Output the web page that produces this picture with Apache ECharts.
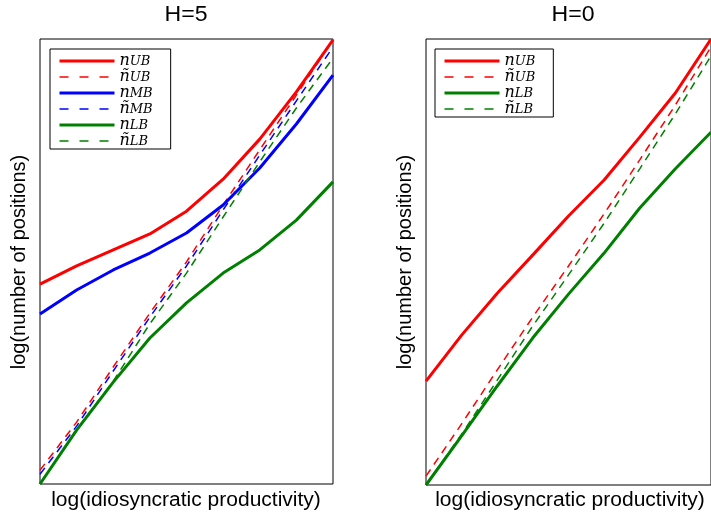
<!DOCTYPE html>
<html>
<head>
<meta charset="utf-8">
<script src="https://cdn.jsdelivr.net/npm/echarts@6/dist/echarts.min.js"></script>
<style>html,body{margin:0;padding:0;background:#fff;}#c{width:711px;height:520px;}</style>
</head>
<body>
<div id="c"></div>
<script>
// x grid (productivity levels, arbitrary units)
const xLevels = [0, 1, 2, 3, 4, 5, 6, 7, 8];
// H=5 panel (arbitrary log units, 0..10)
const h5_nUB  = [4.49, 4.90, 5.26, 5.62, 6.13, 6.85, 7.75, 8.81, 9.98];
const h5_tnUB = [0.31, 1.39, 2.63, 3.84, 4.99, 6.27, 7.51, 8.74, 9.98];
const h5_nMB  = [3.82, 4.36, 4.81, 5.19, 5.64, 6.27, 7.10, 8.09, 9.19];
const h5_tnMB = [0.22, 1.30, 2.54, 3.75, 4.90, 6.16, 7.39, 8.61, 9.82];
const h5_nLB  = [0.00, 1.21, 2.29, 3.28, 4.07, 4.74, 5.26, 5.93, 6.79];
const h5_tnLB = [0.00, 1.22, 2.31, 3.60, 4.74, 6.00, 7.24, 8.45, 9.57];
// H=0 panel
const h0_nUB  = [2.33, 3.36, 4.30, 5.16, 6.03, 6.84, 7.80, 8.79, 10.00];
const h0_tnUB = [0.20, 1.37, 2.58, 3.77, 4.91, 6.08, 7.29, 8.52, 9.82];
const h0_nLB  = [0.00, 1.10, 2.22, 3.30, 4.28, 5.20, 6.21, 7.09, 7.91];
const h0_tnLB = [0.00, 1.14, 2.35, 3.57, 4.71, 5.87, 7.09, 8.32, 9.62];

const titles = ['H=5', 'H=0'];
const xLabel = 'log(idiosyncratic productivity)';
const yLabel = 'log(number of positions)';

const RED = '#ff0000', BLUE = '#0000ff', GREEN = '#008000';
const DASH = [8, 6];
const pair = ys => xLevels.map((x, i) => [x, ys[i]]);
function mk(name, ys, idx, color, dashed) {
  return {
    type: 'line', name: name, xAxisIndex: idx, yAxisIndex: idx,
    data: pair(ys), symbol: 'none', showSymbol: false, animation: false,
    lineStyle: { color: color, width: dashed ? 1.5 : 3, type: dashed ? DASH : 'solid', cap: 'butt' },
    itemStyle: { color: color }
  };
}
const legendMap = {
  'nUB': '{n|n}{s|UB}', 'tnUB': '{n|ñ}{s|UB}',
  'nMB': '{n|n}{s|MB}', 'tnMB': '{n|ñ}{s|MB}',
  'nLB': '{n|n}{s|LB}', 'tnLB': '{n|ñ}{s|LB}'
};
const legendStyle = {
  'nUB': [RED, 3, 'solid'], 'tnUB': [RED, 1.5, [9, 11]],
  'nMB': [BLUE, 3, 'solid'], 'tnMB': [BLUE, 1.5, [9, 11]],
  'nLB': [GREEN, 3, 'solid'], 'tnLB': [GREEN, 1.5, [9, 11]]
};
const rich = {
  n: { fontFamily: 'DejaVu Serif', fontStyle: 'italic', fontSize: 16, color: '#000', lineHeight: 14, verticalAlign: 'middle' },
  s: { fontFamily: 'DejaVu Serif', fontStyle: 'italic', fontSize: 13, color: '#000', lineHeight: 12, padding: [5, 0, 0, 0], verticalAlign: 'bottom' }
};
function legend(left, names, padRight) {
  return {
    orient: 'vertical', left: left, top: 49,
    data: names.map(n => ({ name: n, lineStyle: { color: legendStyle[n][0], width: legendStyle[n][1], type: legendStyle[n][2] } })),
    itemWidth: 55, itemHeight: 12, itemGap: -3,
    padding: [1, padRight, 0, 8], borderColor: '#000', borderWidth: 1, backgroundColor: '#fff',
    selectedMode: false,
    itemStyle: { opacity: 0 },
    formatter: n => legendMap[n],
    textStyle: { rich: rich }
  };
}
function xAx(i) {
  return { type: 'value', gridIndex: i, min: 0, max: 8,
    axisLine: { show: false }, axisTick: { show: false }, axisLabel: { show: false }, splitLine: { show: false } };
}
function yAx(i) {
  return { type: 'value', gridIndex: i, min: 0, max: 10,
    axisLine: { show: false }, axisTick: { show: false }, axisLabel: { show: false }, splitLine: { show: false } };
}
const SX = 1.05;
function txt(text, x, y, size, rot) {
  return { type: 'text', x: x, y: y, rotation: rot || 0, scaleX: rot ? 1 : SX, scaleY: rot ? SX : 1, silent: true,
    style: { text: text, font: size + 'px "Liberation Sans"', fill: '#000', align: 'center', verticalAlign: 'middle' } };
}
const chart = echarts.init(document.getElementById('c'), null, { renderer: 'canvas' });
chart.setOption({
  backgroundColor: '#fff',
  animation: false,
  grid: [
    { left: 40, top: 39, width: 293, height: 445, show: true, borderColor: '#000', borderWidth: 1, backgroundColor: 'transparent' },
    { left: 426, top: 39, width: 294, height: 446, show: true, borderColor: '#000', borderWidth: 1, backgroundColor: 'transparent' }
  ],
  xAxis: [xAx(0), xAx(1)],
  yAxis: [yAx(0), yAx(1)],
  legend: [
    legend(50, ['nUB', 'tnUB', 'nMB', 'tnMB', 'nLB', 'tnLB'], 18),
    legend(435, ['nUB', 'tnUB', 'nLB', 'tnLB'], 18)
  ],
  graphic: [
    txt(titles[0], 186, 15, 22),
    txt(titles[1], 573, 15, 22),
    txt(xLabel, 186, 500, 20),
    txt(xLabel, 570, 500, 20),
    txt(yLabel, 19, 262, 20, Math.PI / 2),
    txt(yLabel, 405, 262, 20, Math.PI / 2)
  ],
  series: [
    mk('nUB', h5_nUB, 0, RED, false),
    mk('tnUB', h5_tnUB, 0, RED, true),
    mk('nMB', h5_nMB, 0, BLUE, false),
    mk('tnMB', h5_tnMB, 0, BLUE, true),
    mk('nLB', h5_nLB, 0, GREEN, false),
    mk('tnLB', h5_tnLB, 0, GREEN, true),
    mk('nUB', h0_nUB, 1, RED, false),
    mk('tnUB', h0_tnUB, 1, RED, true),
    mk('nLB', h0_nLB, 1, GREEN, false),
    mk('tnLB', h0_tnLB, 1, GREEN, true)
  ]
});
</script>
</body>
</html>
